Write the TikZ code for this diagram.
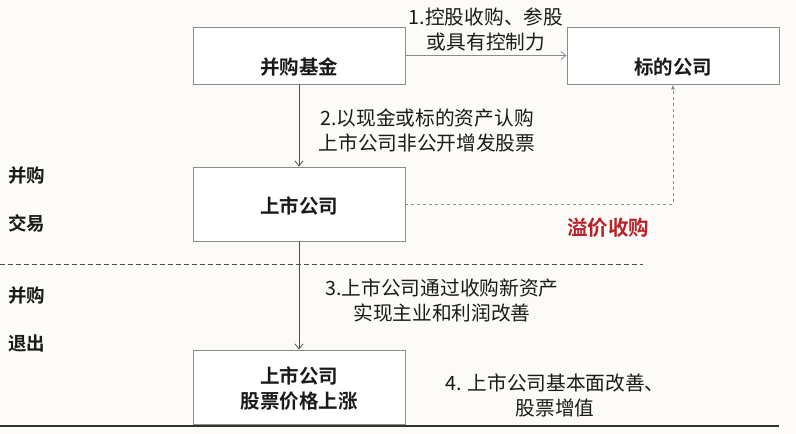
\documentclass[tikz,border=0pt]{standalone}
\usepackage{fontspec}
\setmainfont{Noto Sans CJK SC}[BoldFont={Noto Sans CJK SC Bold}]
\usetikzlibrary{arrows.meta}
\definecolor{bgcol}{HTML}{FCFBF7}
\definecolor{boxline}{HTML}{8C8C8C}
\definecolor{linecol}{HTML}{505050}
\definecolor{redtxt}{HTML}{B8232A}
\definecolor{txt}{HTML}{1A1A1A}
\begin{document}
\begin{tikzpicture}[x=1pt,y=-1pt,
  box/.style={draw=boxline, fill=white, line width=0.9pt, minimum width=212pt, inner sep=0pt},
  boxtxt/.style={font=\bfseries\fontsize{19.5}{25}\selectfont, text=txt, align=center, inner sep=0pt},
  lbl/.style={font=\fontsize{19.7}{25}\selectfont, text=txt, align=center, inner sep=0pt},
  side/.style={font=\bfseries\fontsize{18.5}{22}\selectfont, text=txt, inner sep=0pt},
  conn/.style={draw=linecol, line width=0.8pt, -{Straight Barb[length=5pt,width=8pt]}},
  dconn/.style={draw=boxline, line width=0.9pt, dashed, -{Latex[length=5pt,width=4pt]}},
]
\fill[bgcol] (0,0) rectangle (796,434);
\useasboundingbox (0,0) rectangle (796,434);

% boxes
\node[box, minimum height=57pt] (fund) at (299,55.5) {};
\node[boxtxt] (fundt) at (299,67) {并购基金};
\node[box, minimum height=57pt] (target) at (673,55.5) {};
\node[boxtxt] (targett) at (673,67) {标的公司};
\node[box, minimum height=74pt] (listed) at (299,204) {};
\node[boxtxt] (listedt) at (299,206) {上市公司};
\node[box, minimum height=74pt] (rise) at (299,387) {};
\node[boxtxt] (riset) at (299,389) {上市公司\\股票价格上涨};

% connectors
\draw[conn, draw=boxline] (fund.east) -- (target.west);
\draw[conn] (fund.south) -- (listed.north);
\draw[conn] (listed.south) -- (rise.north);
\coordinate (corner) at (target.south |- listed.east);
\draw[dconn] (listed.east) -- (corner) -- (target.south);

% separators
\coordinate (sepL) at (0,264);
\coordinate (sepR) at (643,264);
\draw[linecol, line width=0.8pt, dash pattern=on 5pt off 3pt] (sepL) -- (sepR);
\coordinate (botL) at (0,426);
\coordinate (botR) at (779,426);
\draw[black!80, line width=1.3pt] (botL) -- (botR);

% labels
\node[lbl] (l1) at (486,29.5) {1.控股收购、参股\\或具有控制力};
\node[lbl] (l2) at (427,130.5) {2.以现金或标的资产认购\\上市公司非公开增发股票};
\node[lbl] (l3) at (442,300) {3.上市公司通过收购新资产\\实现主业和利润改善};
\node[lbl] (l4) at (555,395) {4. 上市公司基本面改善、\\股票增值};
\node[side, text=redtxt, font=\bfseries\fontsize{20.5}{22}\selectfont] (prem) at (608,228) {溢价收购};

\node[side] (s1) at (27,175) {并购};
\node[side] (s2) at (27,223) {交易};
\node[side] (s3) at (27,295) {并购};
\node[side] (s4) at (27,343) {退出};
\end{tikzpicture}
\end{document}
